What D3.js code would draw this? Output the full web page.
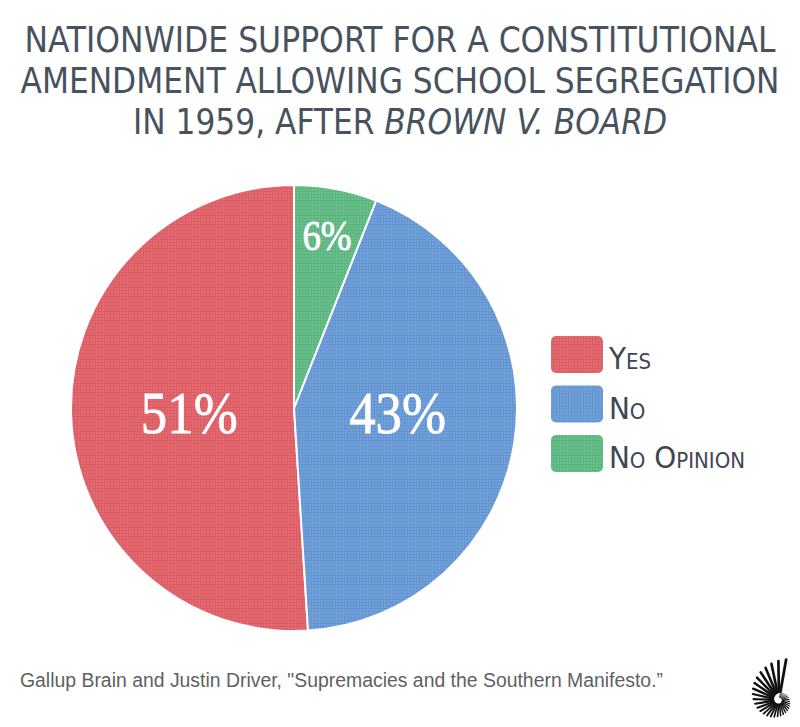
<!DOCTYPE html>
<html>
<head>
<meta charset="utf-8">
<script src="https://cdn.jsdelivr.net/npm/d3@7"></script>
<style>
  body { margin: 0; background: #fff; }
</style>
</head>
<body>
<div id="chart"></div>
<script>
// data
const titleLines = [
  [{t: "NATIONWIDE SUPPORT FOR A CONSTITUTIONAL"}],
  [{t: "AMENDMENT ALLOWING SCHOOL SEGREGATION"}],
  [{t: "IN 1959, AFTER "}, {t: "BROWN V. BOARD", italic: true}]
];
const categories = ["Yes", "No", "No Opinion"];
const values = [51, 43, 6];
const colors = ["#e0646a", "#6a9bd6", "#62bb86"];
const source = "Gallup Brain and Justin Driver, \"Supremacies and the Southern Manifesto.\u201D";

const width = 800, height = 727;
const cx = 294, cy = 408, radius = 223;

const svg = d3.select("#chart").append("svg")
    .attr("width", width)
    .attr("height", height)
    .attr("viewBox", [0, 0, width, height]);

// dotted grid texture, one pattern per colour
const defs = svg.append("defs");
colors.forEach((c, i) => {
  const p = defs.append("pattern")
      .attr("id", "tex" + i)
      .attr("width", 3).attr("height", 3)
      .attr("patternUnits", "userSpaceOnUse");
  p.append("rect").attr("width", 3).attr("height", 3).attr("fill", d3.color(c).darker(0.12));
  p.append("rect").attr("width", 2).attr("height", 2).attr("fill", d3.color(c).brighter(0.12));
});

// title
const titleWidths = [751, 759, 534];
svg.append("g")
    .attr("font-family", "'DejaVu Sans Condensed', 'Open Sans', sans-serif")
    .attr("font-size", 35)
    .attr("fill", "#47525e")
  .selectAll("text")
  .data(titleLines)
  .join("text")
    .attr("x", width / 2)
    .attr("y", (d, i) => 52 + i * 41)
    .attr("text-anchor", "middle")
    .attr("textLength", (d, i) => titleWidths[i])
    .attr("lengthAdjust", "spacingAndGlyphs")
    .selectAll("tspan")
    .data(d => d)
    .join("tspan")
      .attr("font-style", d => d.italic ? "italic" : null)
      .text(d => d.t);

// pie, drawn counter-clockwise from 12 o'clock so "No Opinion" sits top right
const pie = d3.pie().sort(null).startAngle(0).endAngle(-2 * Math.PI);
const arcs = pie(values);
const arc = d3.arc().innerRadius(0).outerRadius(radius);

const g = svg.append("g").attr("transform", `translate(${cx},${cy})`);
g.selectAll("path")
  .data(arcs)
  .join("path")
    .attr("d", arc)
    .attr("fill", (d, i) => `url(#tex${i})`)
    .attr("stroke", "#fff")
    .attr("stroke-width", 2)
    .attr("stroke-linejoin", "round");

// percentage labels
const bigArc = d3.arc().innerRadius(radius * 0.47).outerRadius(radius * 0.47);
const smallArc = d3.arc().innerRadius(radius * 0.79).outerRadius(radius * 0.79);
g.selectAll("text")
  .data(arcs)
  .join("text")
    .attr("transform", d => {
      const small = d.value < 10;
      const [x, y] = (small ? smallArc : bigArc).centroid(d);
      return `translate(${x},${small ? y : 3}) scale(0.88,1)`;
    })
    .attr("text-anchor", "middle")
    .attr("dy", "0.36em")
    .attr("font-family", "'Liberation Serif', serif")
    .attr("font-size", d => d.value < 10 ? 42 : 60)
    .attr("fill", "#fff")
    .attr("stroke", "#fff")
    .attr("stroke-width", 0.8)
    .text(d => d.value + "%");

// legend
const legend = svg.append("g").attr("transform", "translate(551,336)");
const item = legend.selectAll("g")
  .data(categories)
  .join("g")
    .attr("transform", (d, i) => `translate(0,${i * 49.5})`);
item.append("rect")
    .attr("width", 52)
    .attr("height", 37)
    .attr("rx", 5)
    .attr("fill", (d, i) => `url(#tex${i})`);
item.append("text")
    .attr("x", 58)
    .attr("y", 33)
    .attr("font-family", "'DejaVu Sans Condensed', 'Open Sans', sans-serif")
    .attr("font-size", 31)
    .attr("font-variant", "small-caps")
    .attr("fill", "#3e4650")
    .text(d => d);

// source note
svg.append("text")
    .attr("x", 20)
    .attr("y", 687)
    .attr("font-family", "'Liberation Sans', Arial, sans-serif")
    .attr("font-size", 20)
    .attr("fill", "#5f5f5f")
    .attr("textLength", 643)
    .attr("lengthAdjust", "spacingAndGlyphs")
    .text(source);

// small nautilus mark, bottom right: spokes between two whorls of a log spiral
const logo = svg.append("g").attr("transform", "translate(779,700)");
const spokes = d3.range(0, 34);
const rOut = t => 41 * Math.exp(-0.28 * t);
logo.selectAll("line")
  .data(spokes)
  .join("line")
    .each(function(k) {
      const t = k * 0.19;
      const a = (-80 * Math.PI / 180) - t;
      const r1 = rOut(t), r0 = rOut(t + 2 * Math.PI) + 1.5;
      d3.select(this)
        .attr("x1", Math.cos(a) * r0).attr("y1", Math.sin(a) * r0)
        .attr("x2", Math.cos(a) * r1).attr("y2", Math.sin(a) * r1);
    })
    .attr("stroke", "#111")
    .attr("stroke-width", k => Math.max(0.7, 2.8 - k * 0.07))
    .attr("stroke-linecap", "round");
</script>
</body>
</html>
